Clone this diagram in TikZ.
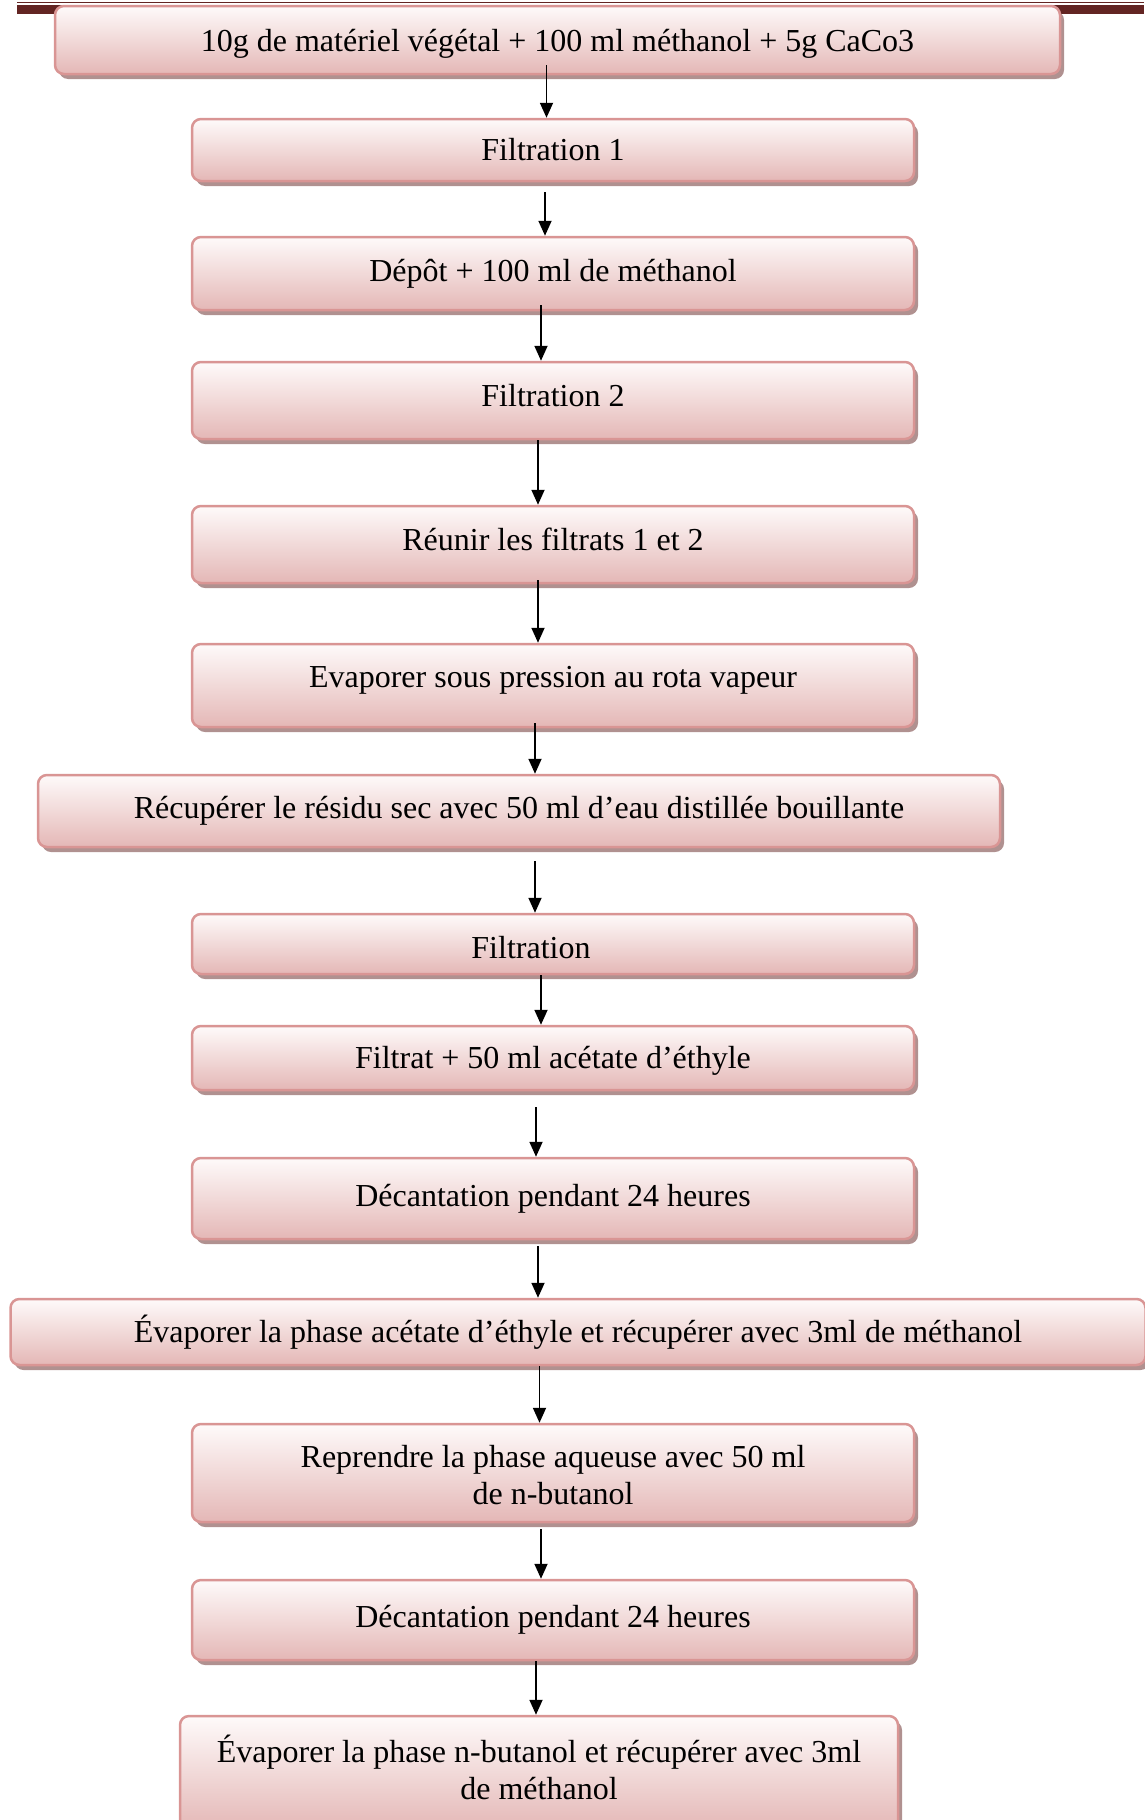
\documentclass[tikz,border=0pt]{standalone}
\usepackage{fontspec}
\setmainfont{Liberation Serif}
\usetikzlibrary{arrows.meta,shadows}

\definecolor{boxline}{HTML}{D99594}
\definecolor{boxtop}{HTML}{FEFAFA}
\definecolor{boxmid}{HTML}{F1D9D8}
\definecolor{boxbot}{HTML}{E4B7B6}
\definecolor{boxshadow}{HTML}{B09190}
\definecolor{headrule}{HTML}{632523}

\newcommand{\liftby}[2]{\raisebox{#1}[\height][\depth]{#2}}
\newcommand{\twolines}[3]{\liftby{#1}{\begin{tabular}{@{}c@{}}#2\\ #3\end{tabular}}}

\begin{document}
\begin{tikzpicture}[
    x=1pt, y=-1pt,
    every node/.style={align=center, font=\fontsize{32}{37}\selectfont},
    stepbox/.style={draw=boxline, line width=2.5pt, rounded corners=9pt,
        top color=boxtop, bottom color=boxbot, middle color=boxmid,
        inner sep=0pt,
        drop shadow={shadow xshift=4pt, shadow yshift=-5pt, fill=boxshadow, opacity=1}},
    flow/.style={draw, line width=1.8pt, -{Triangle[width=13pt,length=15pt]}}
]
\useasboundingbox (0,0) rectangle (1144,1820);

\fill[headrule] (17,1.6) rectangle (1144,3.3);
\fill[headrule] (17,5) rectangle (1144,14);

\node[stepbox, minimum width=1005pt, minimum height=68pt] (extrait) at (557.5,40)
    {\liftby{-4pt}{10g de matériel végétal + 100 ml méthanol + 5g CaCo3}};
\node[stepbox, minimum width=722pt, minimum height=62pt] (filt1) at (553,150)
    {Filtration 1};
\node[stepbox, minimum width=722pt, minimum height=73pt] (depot) at (553,273.5)
    {Dépôt + 100 ml de méthanol};
\node[stepbox, minimum width=722pt, minimum height=77pt] (filt2) at (553,400.5)
    {\liftby{5pt}{Filtration 2}};
\node[stepbox, minimum width=722pt, minimum height=77pt] (reunir) at (553,544.5)
    {\liftby{5pt}{Réunir les filtrats 1 et 2}};
\node[stepbox, minimum width=722pt, minimum height=83pt] (evap) at (553,685.5)
    {\liftby{5pt}{Evaporer sous pression au rota vapeur}};
\node[stepbox, minimum width=962pt, minimum height=72pt] (recup) at (519,811)
    {Récupérer le résidu sec avec 50 ml d’eau distillée bouillante};
\node[stepbox, minimum width=722pt, minimum height=60pt] (filt) at (553,944)
    {\liftby{-4pt}{Filtration}\hspace*{44pt}};
\node[stepbox, minimum width=722pt, minimum height=64pt] (acetate) at (553,1058)
    {\liftby{-3pt}{Filtrat + 50 ml acétate d’éthyle}};
\node[stepbox, minimum width=722pt, minimum height=81pt] (decant1) at (553,1198.5)
    {Décantation pendant 24 heures};
\node[stepbox, minimum width=1135pt, minimum height=66pt] (evapac) at (578,1332)
    {Évaporer la phase acétate d’éthyle et récupérer avec 3ml de méthanol};
\node[stepbox, minimum width=722pt, minimum height=98pt] (butanol) at (553,1473)
    {\twolines{-6pt}{Reprendre la phase aqueuse avec 50 ml}{de n-butanol}};
\node[stepbox, minimum width=722pt, minimum height=80pt] (decant2) at (553,1620)
    {Décantation pendant 24 heures};
\node[stepbox, minimum width=718pt, minimum height=114pt] (evapbut) at (539,1773)
    {\twolines{0pt}{Évaporer la phase n-butanol et récupérer avec 3ml}{de méthanol}};

\foreach \a/\b/\sa/\sy/\sb in {
    extrait/filt1/-11/10/-6.5,
    filt1/depot/-8/-10/-8,
    depot/filt2/-12/6/-12,
    filt2/reunir/-15/0/-15,
    reunir/evap/-15/4/-15,
    evap/recup/-18/5/16,
    recup/filt/16/-13/-18,
    filt/acetate/-12/0/-12,
    acetate/decant1/-17/-16/-17,
    decant1/evapac/-15/-6/-40,
    evapac/butanol/-38.5/0/-13.5,
    butanol/decant2/-12/-6/-12,
    decant2/evapbut/-17/0/-3}
    \draw[flow] ([xshift=\sa pt, yshift=\sy pt]\a.south) -- ([xshift=\sb pt]\b.north);
\end{tikzpicture}
\end{document}
